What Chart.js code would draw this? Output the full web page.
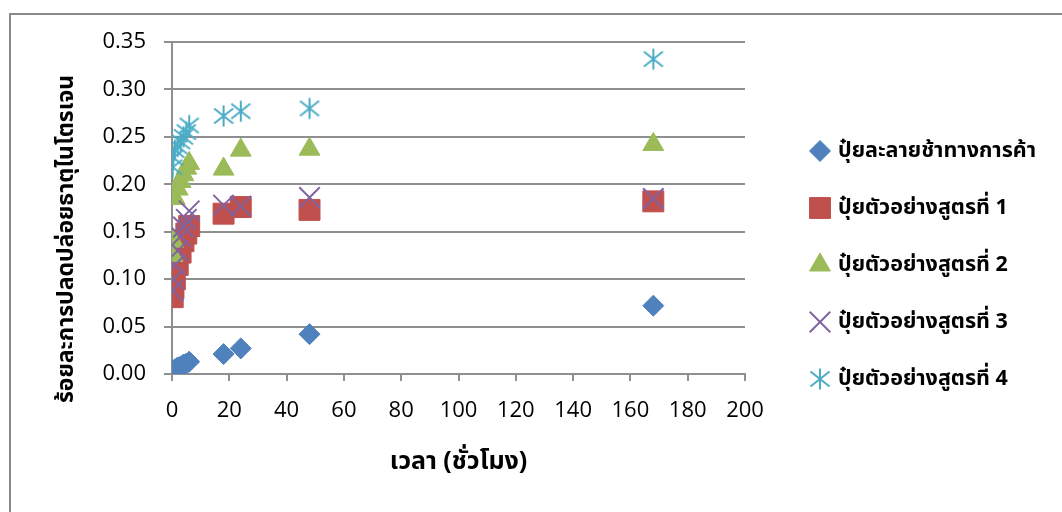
<!DOCTYPE html>
<html>
<head>
<meta charset="utf-8">
<script src="https://cdn.jsdelivr.net/npm/chart.js@4.4.1/dist/chart.umd.min.js"></script>
<style>
  html, body { margin: 0; padding: 0; background: #ffffff; }
  #wrap { width: 1062px; height: 512px; position: relative; }
</style>
</head>
<body>
<div id="wrap"><canvas id="c" width="1062" height="512"></canvas></div>
<script>
// Sampling times (hours)
const times = [0.25, 0.5, 1, 2, 3, 4, 5, 6, 18, 24, 48, 168];

// Cumulative nitrogen release (fraction) for each fertilizer
const commercialSlow = [0.002, 0.003, 0.005, 0.007, 0.008, 0.010, 0.011, 0.013, 0.021, 0.027, 0.042, 0.072];
const formula1 = [0.081, 0.090, 0.100, 0.115, 0.128, 0.140, 0.148, 0.156, 0.169, 0.176, 0.173, 0.182];
const formula2 = [0.125, 0.140, 0.185, 0.195, 0.203, 0.210, 0.217, 0.222, 0.216, 0.236, 0.237, 0.242];
const formula3 = [0.088, 0.100, 0.115, 0.130, 0.145, 0.155, 0.163, 0.172, 0.178, 0.177, 0.186, 0.185];
const formula4 = [0.218, 0.228, 0.236, 0.240, 0.245, 0.250, 0.255, 0.262, 0.272, 0.277, 0.280, 0.332];

const seriesNames = [
  'ปุ๋ยละลายช้าทางการค้า',
  'ปุ๋ยตัวอย่างสูตรที่ 1',
  'ปุ๋ยตัวอย่างสูตรที่ 2',
  'ปุ๋ยตัวอย่างสูตรที่ 3',
  'ปุ๋ยตัวอย่างสูตรที่ 4'
];
const yTicks = [0, 0.05, 0.10, 0.15, 0.20, 0.25, 0.30, 0.35];
const xTicks = [0, 20, 40, 60, 80, 100, 120, 140, 160, 180, 200];
const xTitle = 'เวลา (ชั่วโมง)';
const yTitle = 'ร้อยละการปลดปล่อยธาตุไนโตรเจน';

const colors = ['#4f81bd', '#c0504d', '#9bbb59', '#8064a2', '#4bacc6'];
const THAI_FONT = "'Noto Sans', 'Noto Sans Thai', 'Loma', 'Garuda', 'DejaVu Sans', sans-serif";

// Asterisk marker: vertical stroke plus an X
function makeAsterisk(color) {
  const cv = document.createElement('canvas');
  cv.width = 24; cv.height = 24;
  const g = cv.getContext('2d');
  g.strokeStyle = color;
  g.lineWidth = 2;
  g.lineCap = 'butt';
  g.beginPath();
  g.moveTo(12, 1.5); g.lineTo(12, 22.5);
  g.moveTo(2.5, 4.5); g.lineTo(21.5, 19.5);
  g.moveTo(21.5, 4.5); g.lineTo(2.5, 19.5);
  g.stroke();
  return cv;
}
const asterisk = makeAsterisk(colors[4]);

const allSeries = [commercialSlow, formula1, formula2, formula3, formula4];
const styles = [
  { pointStyle: 'rectRot', radius: 10.5, borderWidth: 1 },
  { pointStyle: 'rect', radius: 14.8, borderWidth: 1 },
  { pointStyle: 'triangle', radius: 12, borderWidth: 1 },
  { pointStyle: 'crossRot', radius: 14.5, borderWidth: 2 },
  { pointStyle: asterisk, radius: 12, borderWidth: 2 }
];

const datasets = allSeries.map((vals, i) => ({
  label: seriesNames[i],
  data: vals.map((v, k) => ({ x: times[k], y: v })),
  showLine: false,
  pointStyle: styles[i].pointStyle,
  pointRadius: styles[i].radius,
  pointHoverRadius: styles[i].radius,
  pointBorderWidth: styles[i].borderWidth,
  backgroundColor: colors[i],
  borderColor: colors[i],
  order: 5 - i
}));

const GRID = '#8f8f8f';

// Frame, axis titles and the legend
const decorations = {
  id: 'decorations',
  beforeDraw(chart) {
    const ctx = chart.ctx;
    ctx.save();
    ctx.fillStyle = '#ffffff';
    ctx.fillRect(0, 0, chart.width, chart.height);
    ctx.strokeStyle = '#8a8a8a';
    ctx.lineWidth = 2;
    ctx.strokeRect(10, 14, 1100, 600);
    ctx.restore();
  },
  afterDraw(chart) {
    const ctx = chart.ctx;
    const area = chart.chartArea;
    ctx.save();
    ctx.fillStyle = '#000000';
    ctx.font = "bold 25px " + THAI_FONT;
    ctx.textAlign = 'center';
    ctx.textBaseline = 'middle';
    ctx.fillText(xTitle, (area.left + area.right) / 2, 462);

    ctx.save();
    ctx.translate(66, 239);
    ctx.rotate(-Math.PI / 2);
    ctx.font = "bold 23px " + THAI_FONT;
    ctx.fillText(yTitle, 0, 0);
    ctx.restore();

    // legend
    const lx = 820, ly0 = 151, step = 57;
    ctx.font = "bold 21.5px " + THAI_FONT;
    ctx.textAlign = 'left';
    chart.data.datasets.forEach((ds, i) => {
      const y = ly0 + i * step;
      ctx.save();
      ctx.fillStyle = ds.backgroundColor;
      ctx.strokeStyle = ds.borderColor;
      ctx.lineWidth = ds.pointBorderWidth;
      Chart.helpers.drawPoint(ctx, {
        pointStyle: ds.pointStyle,
        radius: ds.pointRadius,
        borderWidth: ds.pointBorderWidth,
        rotation: 0
      }, lx, y);
      ctx.restore();
      ctx.fillStyle = '#000000';
      ctx.fillText(ds.label, 838, y);
    });
    ctx.restore();
  }
};

new Chart(document.getElementById('c'), {
  type: 'scatter',
  data: { datasets },
  plugins: [decorations],
  options: {
    responsive: false,
    animation: false,
    events: [],
    layout: { padding: { left: 0, top: 42, right: 317, bottom: 0 } },
    plugins: { legend: { display: false }, tooltip: { enabled: false } },
    scales: {
      x: {
        type: 'linear',
        min: 0, max: 200,
        afterBuildTicks(scale) { scale.ticks = xTicks.map(v => ({ value: v })); },
        afterFit(scale) { scale.height = 138; },
        grid: { drawOnChartArea: false, drawTicks: true, tickLength: 7, color: GRID, lineWidth: 2 },
        border: { display: true, color: GRID, width: 2 },
        ticks: {
          color: '#000000',
          padding: 17,
          maxRotation: 0,
          font: { family: "'Open Sans', sans-serif", size: 22 },
          callback: v => String(v)
        }
      },
      y: {
        type: 'linear',
        min: 0, max: 0.35,
        afterBuildTicks(scale) { scale.ticks = yTicks.map(v => ({ value: v })); },
        afterFit(scale) { scale.width = 172; },
        grid: { drawOnChartArea: true, drawTicks: true, tickLength: 8, color: GRID, lineWidth: 2 },
        border: { display: true, color: GRID, width: 2 },
        ticks: {
          color: '#000000',
          padding: 18,
          font: { family: "'Open Sans', sans-serif", size: 22 },
          callback: v => Number(v).toFixed(2)
        }
      }
    }
  }
});
</script>
</body>
</html>
